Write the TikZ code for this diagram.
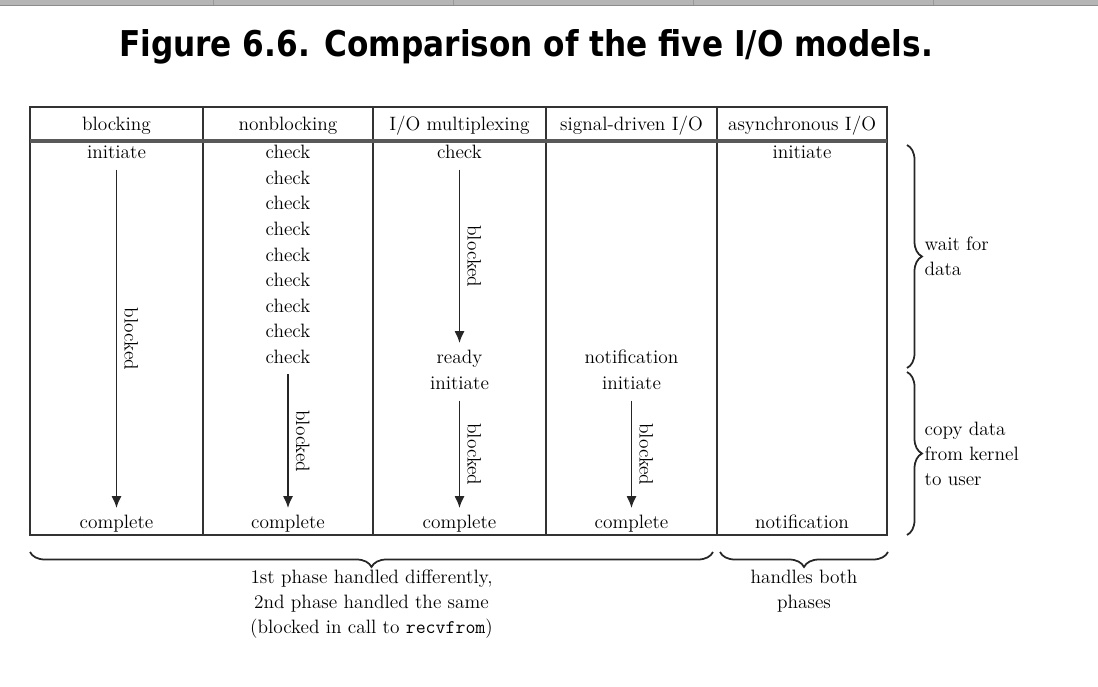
\documentclass[tikz,border=0pt]{standalone}
\usepackage{fontspec}
\newfontfamily\titlefont{DejaVu Sans}
\usepackage{graphicx}
\usetikzlibrary{arrows.meta, positioning, decorations.pathreplacing}

\begin{document}
\begin{tikzpicture}[x=0.02cm, y=-0.02cm, >={Latex[length=0.24cm, width=0.2cm]},
		cell/.style={inner sep=1pt, text height=8pt, text depth=2.5pt, yshift=-1.1pt, font=\fontsize{11}{14}\selectfont},
		note/.style={inner sep=1pt, font=\fontsize{11}{14.2}\selectfont},
		blk/.style={rotate=-90, anchor=south, inner sep=4pt, font=\fontsize{11}{14}\selectfont},
		flow/.style={->, line width=1.1pt, draw=black!85, shorten <=2.5pt, shorten >=2.5pt},
		rule/.style={line width=1.1pt, draw=black!80},
		brace/.style={decorate, decoration={brace, amplitude=0.3cm}, line width=1pt, draw=black!85}]
		\useasboundingbox (0,0) rectangle (1098,686);
		
		% window strip
		\fill[black!29] (0,0) rectangle (1098,5);
		\draw[black!45, line width=0.6pt] (0,5.5) -- (1098,5.5);
		\foreach \x in {213,453,693,933}
			\draw[black!40, line width=0.5pt] (\x,0) -- (\x,5);
		
		% title
		\node[anchor=base, inner sep=0pt] (title) at (526,56)
			{\resizebox{16.28cm}{0.54cm}{\titlefont\bfseries Figure 6.6. Comparison of the five I/O models.}};
		
		% table
		\draw[rule] (30,107) rectangle (887,535);
		\foreach \x in {203,373,546,717}
			\draw[rule] (\x,107) -- (\x,535);
		\draw[line width=0.08cm, black!65] (30,141) -- (887,141);
		
		% column heads
		\node[cell] (h1) at (116.5,124) {blocking};
		\node[cell] (h2) at (288,124) {nonblocking};
		\node[cell] (h3) at (459.5,124) {I/O multiplexing};
		\node[cell] (h4) at (631.5,124) {signal-driven I/O};
		\node[cell] (h5) at (802,124) {asynchronous I/O};
		
		% blocking
		\node[cell] (ini1) at (116.5,152) {initiate};
		\node[cell] (cmp1) at (116.5,522) {complete};
		
		% nonblocking
		\foreach \i in {1,...,9}
			\node[cell] (chk\i) at (288,{152+25.6*(\i-1)}) {check};
		\node[cell] (cmp2) at (288,522) {complete};
		
		% I/O multiplexing
		\node[cell] (chk) at (459.5,152) {check};
		\node[cell] (rdy) at (459.5,357) {ready};
		\node[cell] (ini3) at (459.5,383) {initiate};
		\node[cell] (cmp3) at (459.5,522) {complete};
		
		% signal-driven I/O
		\node[cell] (ntf4) at (631.5,357) {notification};
		\node[cell] (ini4) at (631.5,383) {initiate};
		\node[cell] (cmp4) at (631.5,522) {complete};
		
		% asynchronous I/O
		\node[cell] (ini5) at (802,152) {initiate};
		\node[cell] (ntf5) at (802,522) {notification};
		
		% blocked spans
		\draw[flow] (ini1) -- node[blk] {blocked} (cmp1);
		\draw[flow] (chk9) -- node[blk] {blocked} (cmp2);
		\draw[flow] (chk) -- node[blk] {blocked} (rdy);
		\draw[flow] (ini3) -- node[blk] {blocked} (cmp3);
		\draw[flow] (ini4) -- node[blk] {blocked} (cmp4);
		
		% phases
		\draw[brace] (907,145) -- node[note, right=0.3cm, align=left] {wait for\\data} (907,368);
		\draw[brace] (907,372) -- node[note, right=0.3cm, align=left] {copy data\\from kernel\\to user} (907,535);
		\draw[brace] (713,552) -- node[note, below=0.3cm, align=center]
			{1st phase handled differently,\\2nd phase handled the same\\(blocked in call to \texttt{recvfrom})} (30,552);
		\draw[brace] (888,552) -- node[note, below=0.3cm, align=center] {handles both\\phases} (720,552);
	\end{tikzpicture}
\end{document}
